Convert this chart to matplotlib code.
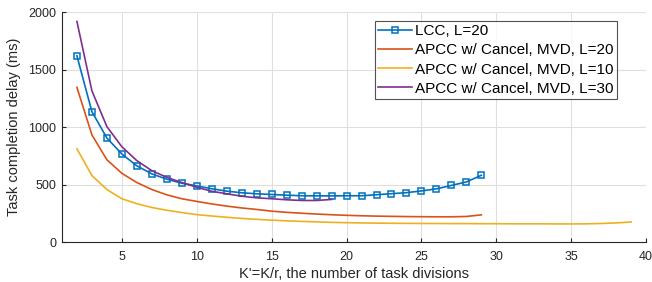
import matplotlib
matplotlib.use("Agg")
import matplotlib.pyplot as plt

plt.rcParams['font.family'] = ['Liberation Sans', 'DejaVu Sans']

lcc_x = list(range(2, 30))
lcc_y = [1620, 1135, 906, 767, 664, 594, 548, 513, 490, 465, 444, 430, 421, 415,
         409, 404, 403, 403, 404, 404, 413, 422, 431, 446, 464, 494, 524, 582]

red_x = list(range(2, 30))
red_y = [1346, 933, 717, 599, 519, 458, 412, 378, 355, 333, 314, 298, 285, 270,
         260, 252, 245, 239, 234, 230, 227, 225, 223, 222, 221, 221, 224, 238]

yel_x = list(range(2, 40))
yel_y = [812, 580, 458, 378, 335, 302, 278, 258, 240, 228, 217, 207, 199, 192,
         186, 181, 177, 173, 170, 168, 166, 165, 164, 163, 163, 162, 162, 161,
         161, 160, 160, 160, 159, 159, 160, 163, 168, 176]

pur_x = list(range(2, 20))
pur_y = [1919, 1316, 1005, 830, 709, 622, 564, 519, 478, 443, 421, 400, 386,
         378, 369, 363, 363, 372]

labels = ['LCC, L=20', 'APCC w/ Cancel, MVD, L=20',
          'APCC w/ Cancel, MVD, L=10', 'APCC w/ Cancel, MVD, L=30']
colors = ['#0072BD', '#D95319', '#EDB120', '#7E2F8E']

fig = plt.figure(figsize=(6.52, 2.82), dpi=100)
ax = fig.add_axes([0.095, 0.141, 0.896, 0.816])

ax.plot(lcc_x, lcc_y, color=colors[0], lw=1.2, marker='s', markersize=4.5,
        markerfacecolor='none', markeredgewidth=1.1, label=labels[0])
ax.plot(red_x, red_y, color=colors[1], lw=1.2, label=labels[1])
ax.plot(yel_x, yel_y, color=colors[2], lw=1.2, label=labels[2])
ax.plot(pur_x, pur_y, color=colors[3], lw=1.2, label=labels[3])

ax.set_xlim(1, 40)
ax.set_ylim(0, 2000)
ax.set_xticks([5, 10, 15, 20, 25, 30, 35, 40])
ax.set_yticks([0, 500, 1000, 1500, 2000])
ax.grid(True, color='#dfdfdf', lw=0.8)
ax.set_axisbelow(True)
for s in ['top', 'right']:
    ax.spines[s].set_visible(False)
for s in ['left', 'bottom']:
    ax.spines[s].set_color('#262626')
    ax.spines[s].set_linewidth(0.8)
ax.tick_params(direction='in', length=3, width=0.8, colors='#262626',
               labelsize=9, labelcolor='#262626', pad=4)
ax.tick_params(axis='x', pad=6)
ax.set_xlabel("K'=K/r, the number of task divisions", fontsize=10.5, color='#262626', labelpad=3)
ax.set_ylabel("Task completion delay (ms)", fontsize=10.5, color='#262626', labelpad=5)

leg = ax.legend(loc='upper right', bbox_to_anchor=(0.950, 0.961), borderaxespad=0,
                fontsize=11, frameon=True, fancybox=False, handlelength=2.2,
                handletextpad=0.25, labelspacing=0.34, borderpad=0.2)
leg.get_frame().set_edgecolor('#262626')
leg.get_frame().set_linewidth(0.8)

fig.savefig('out.png', dpi=100)
